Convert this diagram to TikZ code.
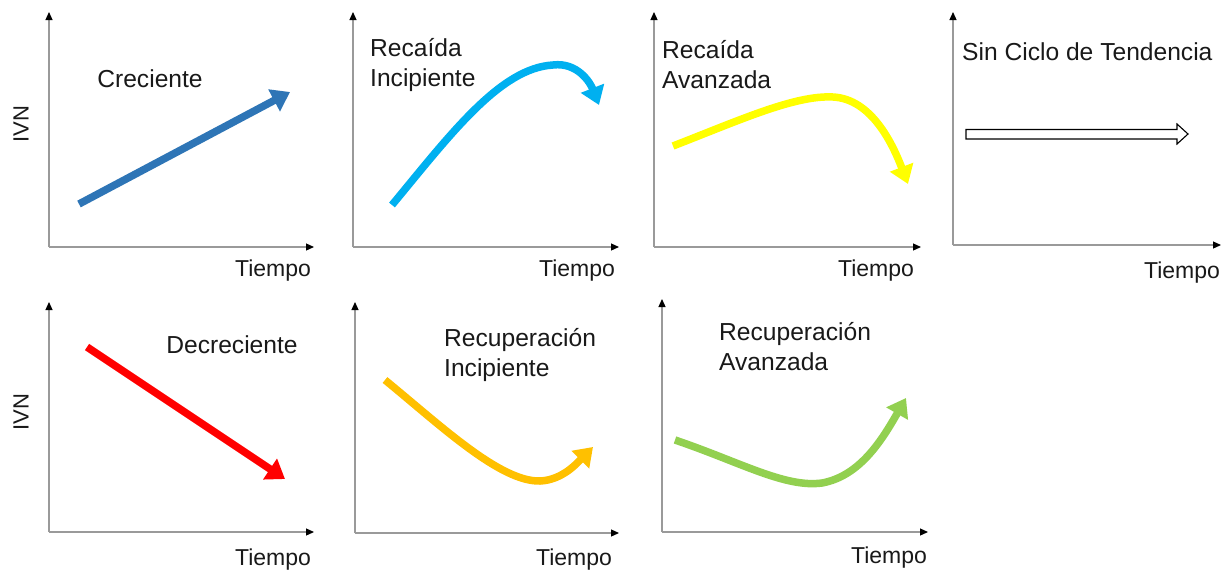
\documentclass[tikz,border=0pt]{standalone}
\usepackage{fontspec}
\setmainfont{Liberation Sans}
\usetikzlibrary{arrows.meta}
\definecolor{cBlue}{HTML}{2E75B6}
\definecolor{cCyan}{HTML}{00B0F0}
\definecolor{cYellow}{HTML}{FFFF00}
\definecolor{cRed}{HTML}{FF0000}
\definecolor{cOrange}{HTML}{FFC000}
\definecolor{cGreen}{HTML}{92D050}
\definecolor{axisgray}{HTML}{9A9A9A}
\begin{document}
\begin{tikzpicture}[x=1pt,y=-1pt,
  axisline/.style={draw=axisgray,line width=1.2pt,-{Triangle[width=7pt,length=8pt,color=black]}},
  lbl/.style={font=\fontsize{24.6}{30}\selectfont,align=left,inner sep=0pt,text=black!90},
  tlbl/.style={font=\fontsize{23}{27}\selectfont,inner sep=0pt,text=black!90},
  ylbl/.style={font=\fontsize{22}{26}\selectfont,inner sep=0pt,rotate=90,text=black!90},
  trend/.style={line width=7.5pt,-{Triangle[width=24pt,length=18pt]}}]
\useasboundingbox (0,0) rectangle (1232,576);
% ---------- Panel 1: Creciente ----------
\coordinate (o1) at (49,247); \coordinate (y1) at (49,12); \coordinate (x1) at (314,247);
\draw[axisline] (o1) -- (y1);
\draw[axisline] (o1) -- (x1);
\node[tlbl] (t1) at (273,271) {Tiempo};
\node[ylbl] (ivn1) at (21,124) {IVN};
\node[lbl] (l1) at (150,79) {Creciente};
\coordinate (a1s) at (79,204); \coordinate (a1e) at (290,92);
\draw[trend,cBlue] (a1s) -- (a1e);
% ---------- Panel 2: Recaida Incipiente ----------
\coordinate (o2) at (353,247); \coordinate (y2) at (353,12); \coordinate (x2) at (619,247);
\draw[axisline] (o2) -- (y2);
\draw[axisline] (o2) -- (x2);
\node[tlbl] (t2) at (577,271) {Tiempo};
\node[lbl,anchor=north west] (l2) at (370,38) {Recaída\\Incipiente};
\coordinate (a2s) at (392,205); \coordinate (a2m) at (553,65); \coordinate (a2e) at (599,105);
\draw[trend,cCyan] (a2s) .. controls (450,135) and (500,68) .. (a2m) .. controls (577,62) and (590,82) .. (a2e);
% ---------- Panel 3: Recaida Avanzada ----------
\coordinate (o3) at (654,247); \coordinate (y3) at (654,12); \coordinate (x3) at (921,247);
\draw[axisline] (o3) -- (y3);
\draw[axisline] (o3) -- (x3);
\node[tlbl] (t3) at (876,271) {Tiempo};
\node[lbl,anchor=north west] (l3) at (662,40) {Recaída\\Avanzada};
\coordinate (a3s) at (673,146); \coordinate (a3m) at (833,97); \coordinate (a3e) at (908,184);
\draw[trend,cYellow] (a3s) .. controls (740,120) and (795,95) .. (a3m) .. controls (872,99) and (893,145) .. (a3e);
% ---------- Panel 4: Sin Ciclo de Tendencia ----------
\coordinate (o4) at (953,245); \coordinate (y4) at (953,12); \coordinate (x4) at (1221,245);
\draw[axisline] (o4) -- (y4);
\draw[axisline] (o4) -- (x4);
\node[tlbl] (t4) at (1182,273) {Tiempo};
\node[lbl,anchor=west] (l4) at (962,52) {Sin Ciclo de Tendencia};
\coordinate (h1) at (966,129.5); \coordinate (h2) at (1177,129.5); \coordinate (h3) at (1177,124);
\coordinate (h4) at (1188,134); \coordinate (h5) at (1177,144); \coordinate (h6) at (1177,139); \coordinate (h7) at (966,139);
\draw[line width=1.1pt,fill=white,line join=miter] (h1) -- (h2) -- (h3) -- (h4) -- (h5) -- (h6) -- (h7) -- cycle;
% ---------- Panel 5: Decreciente ----------
\coordinate (o5) at (49,532); \coordinate (y5) at (49,302); \coordinate (x5) at (314,532);
\draw[axisline] (o5) -- (y5);
\draw[axisline] (o5) -- (x5);
\node[tlbl] (t5) at (273,560) {Tiempo};
\node[ylbl] (ivn2) at (21,412) {IVN};
\node[lbl] (l5) at (232,345) {Decreciente};
\coordinate (a5s) at (87,347); \coordinate (a5e) at (285,479);
\draw[trend,cRed] (a5s) -- (a5e);
% ---------- Panel 6: Recuperacion Incipiente ----------
\coordinate (o6) at (355,533); \coordinate (y6) at (355,302); \coordinate (x6) at (619,533);
\draw[axisline] (o6) -- (y6);
\draw[axisline] (o6) -- (x6);
\node[tlbl] (t6) at (574,560) {Tiempo};
\node[lbl,anchor=north west] (l6) at (444,328) {Recuperación\\Incipiente};
\coordinate (a6s) at (385,380); \coordinate (a6m) at (540,481); \coordinate (a6e) at (593,447);
\draw[trend,cOrange] (a6s) .. controls (440,425) and (500,482) .. (a6m) .. controls (563,480) and (578,462) .. (a6e);
% ---------- Panel 7: Recuperacion Avanzada ----------
\coordinate (o7) at (662,532); \coordinate (y7) at (662,299); \coordinate (x7) at (928,532);
\draw[axisline] (o7) -- (y7);
\draw[axisline] (o7) -- (x7);
\node[tlbl] (t7) at (889,558) {Tiempo};
\node[lbl,anchor=north west] (l7) at (719,322) {Recuperación\\Avanzada};
\coordinate (a7s) at (675,440); \coordinate (a7m) at (822,483); \coordinate (a7e) at (906,398);
\draw[trend,cGreen] (a7s) .. controls (740,462) and (785,488) .. (a7m) .. controls (860,476) and (882,440) .. (a7e);
\end{tikzpicture}
\end{document}
